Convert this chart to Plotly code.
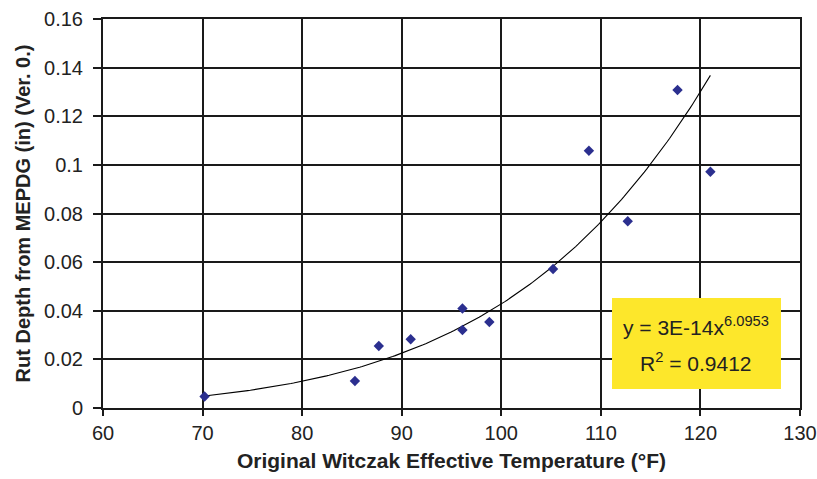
import numpy as np
import plotly.graph_objects as go

# Measured points: effective temperature (°F) vs. MEPDG rut depth (in)
temperature_f = [70.2, 85.3, 87.7, 90.9, 96.1, 96.1, 98.8, 105.2, 108.8, 112.7, 117.7, 121.0]
rut_depth_in = [0.0047, 0.0111, 0.0255, 0.0283, 0.0409, 0.0321, 0.0354, 0.0572, 0.1058, 0.0768, 0.1308, 0.0972]

# Power trendline y = a * x^b (coefficient shown rounded in the label)
trend_coef = 2.76e-14
trend_exp = 6.0953
equation_text = "y = 3E-14x<sup>6.0953</sup>"
r2_text = "R<sup>2</sup> = 0.9412"

x_ticks = [60, 70, 80, 90, 100, 110, 120, 130]
y_ticks = [0, 0.02, 0.04, 0.06, 0.08, 0.1, 0.12, 0.14, 0.16]
y_tick_text = ["0", "0.02", "0.04", "0.06", "0.08", "0.1", "0.12", "0.14", "0.16"]

x_fit = np.linspace(min(temperature_f), max(temperature_f), 200)
y_fit = trend_coef * x_fit ** trend_exp

font_family = "Liberation Sans, Arial, sans-serif"
grid_color = "#1a1a1a"
text_color = "#222222"

fig = go.Figure()
fig.add_trace(go.Scatter(
    x=x_fit, y=y_fit, mode="lines",
    line=dict(color="black", width=1.1),
    hoverinfo="skip", showlegend=False,
))
fig.add_trace(go.Scatter(
    x=temperature_f, y=rut_depth_in, mode="markers",
    marker=dict(symbol="diamond", size=8, color="#2b2f8f"),
    showlegend=False,
))

# Yellow label box holding the trendline equation and R²
fig.add_shape(
    type="rect", xref="paper", yref="paper",
    x0=0.7303, x1=0.9727, y0=0.0488, y1=0.2828,
    fillcolor="#fde72b", line=dict(width=0), layer="above",
)
for txt, ypos in [(equation_text, 0.211), (r2_text, 0.118)]:
    fig.add_annotation(
        x=0.8508, y=ypos, xref="paper", yref="paper",
        xanchor="center", yanchor="middle",
        text=txt, showarrow=False,
        font=dict(family=font_family, size=21, color=text_color),
    )

fig.update_layout(
    width=817, height=479,
    margin=dict(l=103, r=17, t=19, b=71),
    paper_bgcolor="white", plot_bgcolor="white",
    font=dict(family=font_family, color=text_color),
    xaxis=dict(
        range=[60, 130], tickvals=x_ticks, automargin=False,
        ticks="outside", ticklen=6, tickwidth=1.5, tickcolor=grid_color,
        showgrid=True, gridcolor=grid_color, gridwidth=1.5,
        showline=True, linecolor=grid_color, linewidth=2, mirror=True,
        zeroline=False,
        tickfont=dict(size=20, color=text_color),
        title=dict(text="<b>Original Witczak Effective Temperature (°F)</b>",
                   font=dict(size=21, color=text_color), standoff=10),
    ),
    yaxis=dict(
        range=[0, 0.16], tickvals=y_ticks, ticktext=y_tick_text, automargin=False,
        ticks="outside", ticklen=8, tickwidth=1.5, tickcolor=grid_color,
        ticklabelstandoff=6,
        showgrid=True, gridcolor=grid_color, gridwidth=1.5,
        showline=True, linecolor=grid_color, linewidth=2, mirror=True,
        zeroline=False,
        tickfont=dict(size=20, color=text_color),
        title=dict(text="<b>Rut Depth from MEPDG (in) (Ver. 0.)</b>",
                   font=dict(size=20, color=text_color), standoff=8),
    ),
)

fig.write_html("out.html")
